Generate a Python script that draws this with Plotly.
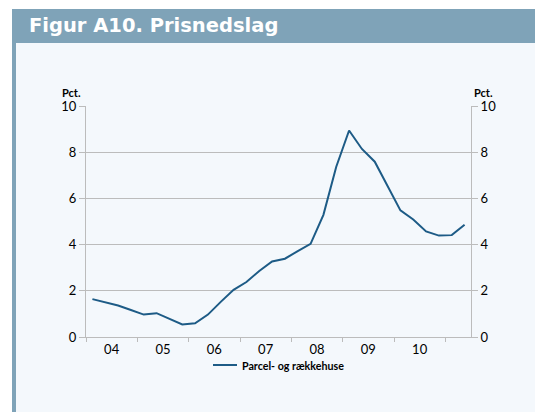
import plotly.graph_objects as go

# quarterly data 2004K1 - 2011K2
years = [2004 + i // 4 for i in range(30)]
quarters = [i % 4 + 1 for i in range(30)]
prisnedslag = [1.64, 1.51, 1.36, 1.17, 0.97, 1.03, 0.78, 0.54, 0.59, 0.97,
               1.52, 2.04, 2.38, 2.86, 3.27, 3.39, 3.72, 4.03, 5.29, 7.37,
               8.94, 8.14, 7.59, 6.54, 5.48, 5.09, 4.57, 4.39, 4.41, 4.86]
year_labels = ["04", "05", "06", "07", "08", "09", "10"]
series_name = "Parcel- og rækkehuse"

# quarter -> position on a numeric time axis (middle of quarter)
x_pos = [y + (q - 0.5) / 4 for y, q in zip(years, quarters)]

W, H = 535, 412
L, R, T, B = 86, 471, 106, 337   # plot area in pixels
FONT = "Lato"
HEAD = "#7fa3b8"
BODY = "#f4f8fc"
LINE = "#1d5b86"
GRID = "#bcbcbc"


def px(x):
    return (x - L) / (R - L)


def py(y):
    return (B - y) / (B - T)


fig = go.Figure()
fig.add_trace(go.Scatter(x=x_pos, y=prisnedslag, mode="lines",
                         line=dict(color=LINE, width=2), name=series_name,
                         showlegend=False))
# invisible trace so the right-hand axis is drawn
fig.add_trace(go.Scatter(x=x_pos, y=prisnedslag, yaxis="y2", mode="lines",
                         line=dict(width=0), hoverinfo="skip", showlegend=False))

shapes = [
    dict(type="rect", xref="paper", yref="paper", x0=px(12), x1=px(W), y0=py(H), y1=py(9),
         fillcolor=BODY, line_width=0, layer="below"),
    dict(type="rect", xref="paper", yref="paper", x0=px(12), x1=px(W), y0=py(43), y1=py(9),
         fillcolor=HEAD, line_width=0, layer="below"),
    dict(type="rect", xref="paper", yref="paper", x0=px(12), x1=px(16), y0=py(H), y1=py(9),
         fillcolor=HEAD, line_width=0, layer="below"),
    # legend sample line
    dict(type="line", xref="paper", yref="paper", x0=px(213), x1=px(237), y0=py(365), y1=py(365),
         line=dict(color=LINE, width=2)),
]

annotations = [
    dict(text="Figur A10. Prisnedslag", xref="paper", yref="paper", x=px(27), y=py(26),
         xanchor="left", yanchor="middle", showarrow=False,
         font=dict(family="DejaVu Sans", size=19.5, color="white", weight="bold")),
    dict(text="<b>Pct.</b>", xref="paper", yref="paper", x=px(83), y=py(92),
         xanchor="right", yanchor="middle", showarrow=False,
         font=dict(family=FONT, size=11, color="black")),
    dict(text="<b>Pct.</b>", xref="paper", yref="paper", x=px(472), y=py(92),
         xanchor="left", yanchor="middle", showarrow=False,
         font=dict(family=FONT, size=11, color="black")),
    dict(text="<b>" + series_name + "</b>", xref="paper", yref="paper", x=px(240), y=py(365),
         xanchor="left", yanchor="middle", showarrow=False,
         font=dict(family=FONT, size=10.7, color="black")),
]

yaxis_common = dict(range=[0, 10], dtick=2, tickfont=dict(family=FONT, size=13, color="black"),
                    ticks="outside", ticklen=6, tickcolor=GRID, showline=True,
                    linecolor=GRID, linewidth=1, zeroline=False, fixedrange=True)

fig.update_layout(
    width=W, height=H,
    margin=dict(l=L, r=W - R, t=T, b=H - B),
    paper_bgcolor="white",
    plot_bgcolor="rgba(0,0,0,0)",
    font=dict(family=FONT, color="black"),
    shapes=shapes,
    annotations=annotations,
    xaxis=dict(range=[2004, 2011.5],
               tickvals=[2004.5 + i for i in range(len(year_labels))],
               ticktext=year_labels, ticks="outside", ticklen=0,
               tickcolor="rgba(0,0,0,0)",
               minor=dict(tick0=2004, dtick=1, ticks="outside", ticklen=4, tickcolor=GRID),
               tickfont=dict(family=FONT, size=13, color="black"),
               showgrid=False, showline=True, linecolor=GRID, linewidth=1,
               zeroline=False, fixedrange=True),
    yaxis=dict(yaxis_common, showgrid=True, gridcolor=GRID, gridwidth=1),
    yaxis2=dict(yaxis_common, overlaying="y", side="right", showgrid=False),
)

# drop the default page margin so the figure sits at the window's top-left corner
fig.write_html("out.html", config={"displayModeBar": False},
               post_script="document.body.style.margin='0';"
                           "document.body.style.overflow='hidden';")
